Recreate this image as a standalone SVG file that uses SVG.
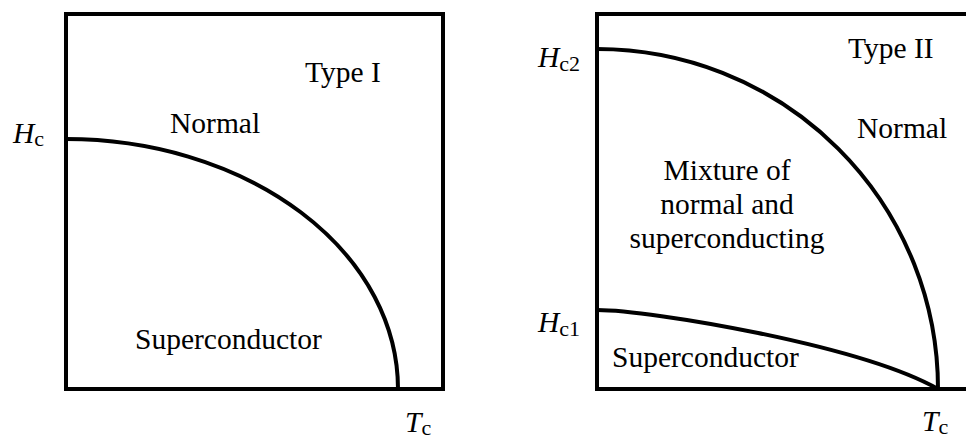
<svg xmlns="http://www.w3.org/2000/svg" width="966" height="439" viewBox="0 0 966 439">
<style>
.frame{fill:none;stroke:#000;stroke-width:4;stroke-linejoin:miter}
.curve{fill:none;stroke:#000;stroke-width:4;stroke-linecap:butt}
.t{font-family:'Liberation Serif','Times New Roman','DejaVu Serif',serif;font-size:29.5px;fill:#000}
.it{font-style:italic}
.sub{font-size:22px}
</style>
<rect width="966" height="439" fill="#fff"/>
<g id="typeI" class="t" font-family="Liberation Serif, DejaVu Serif, serif">
  <rect class="frame" x="66" y="14" width="377" height="375"/>
  <text x="305" y="82">Type I</text>
  <text x="170" y="133">Normal</text>
  <text x="135" y="349">Superconductor</text>
  <text x="13" y="143"><tspan class="it">H</tspan><tspan class="sub" dy="3">c</tspan></text>
  <text x="405" y="432"><tspan class="it">T</tspan><tspan class="sub" dy="3">c</tspan></text>
</g>
<g id="typeII" class="t" font-family="Liberation Serif, DejaVu Serif, serif">
  <rect class="frame" x="597" y="14" width="380" height="375"/>
  <text x="848" y="58">Type II</text>
  <text x="857" y="138">Normal</text>
  <text x="727" y="180" text-anchor="middle">Mixture of</text>
  <text x="727" y="214" text-anchor="middle">normal and</text>
  <text x="727" y="248" text-anchor="middle">superconducting</text>
  <text x="612" y="367">Superconductor</text>
  <text x="538" y="67"><tspan class="it">H</tspan><tspan class="sub" dy="4">c2</tspan></text>
  <text x="538" y="332"><tspan class="it">H</tspan><tspan class="sub" dy="4">c1</tspan></text>
  <text x="922" y="431"><tspan class="it">T</tspan><tspan class="sub" dy="3">c</tspan></text>
</g>
<g id="connectors">
  <path class="curve" d="M66,139 A332,250 0 0 1 398,389"/>
  <path class="curve" d="M597,49 A341,340 0 0 1 938,389"/>
  <path class="curve" d="M597,310 C650,310 860,345 938,389"/>
</g>
</svg>
